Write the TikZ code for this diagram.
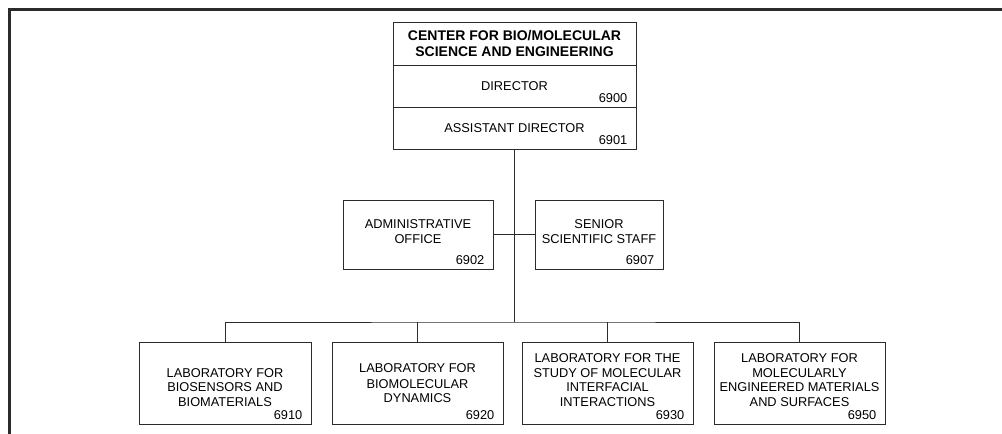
\documentclass[tikz,border=0pt]{standalone}
\usepackage{fontspec}
\setmainfont{Liberation Sans}
\usetikzlibrary{positioning}
\definecolor{ink}{HTML}{2B2B2B}

\begin{document}
\begin{tikzpicture}[
  x=1pt, y=-1pt,
  font=\fontsize{12.8}{14.6}\selectfont,
  unit/.style={draw=ink, line width=0.9pt, outer sep=0pt, align=center, inner sep=2pt},
  head/.style={unit, minimum width=243pt},
  staff/.style={unit, text height=41.2pt, text depth=23.8pt},
  lab/.style={unit, minimum width=171pt, text height=62.3pt, text depth=15.7pt},
  code/.style={anchor=base east, inner sep=0pt, xshift=-8.5pt, yshift=4.5pt},
  link/.style={draw=ink, line width=0.9pt}
]
  \useasboundingbox (0,0) rectangle (1002,434);
  % frame
  \draw[ink, line width=2.6pt] (9.5,434) -- (9.5,9.5) -- (1002,9.5);

  % center block
  \node[head, minimum height=43pt, font=\fontsize{14}{16}\selectfont\bfseries] (cbmse) at (514.5,43.5)
    {CENTER FOR BIO/MOLECULAR\\SCIENCE AND ENGINEERING};
  \node[head, minimum height=42pt, below=0pt of cbmse] (dir) {DIRECTOR};
  \node[head, minimum height=42pt, below=0pt of dir] (asst) {ASSISTANT DIRECTOR};
  \node[code] (c6900) at (dir.south east) {6900};
  \node[code] (c6901) at (asst.south east) {6901};

  % staff
  \node[staff, minimum width=150pt, anchor=north] (admin) at (418,200) {ADMINISTRATIVE\\OFFICE};
  \node[staff, minimum width=128pt, anchor=north] (senior) at (599,200) {SENIOR\\SCIENTIFIC STAFF};
  \node[code] (c6902) at (admin.south east) {6902};
  \node[code] (c6907) at (senior.south east) {6907};

  % laboratories
  \node[lab, minimum width=172pt, anchor=north] (biosens) at (225,342) {LABORATORY FOR\\BIOSENSORS AND\\BIOMATERIALS};
  \node[lab, anchor=north, text height=58.9pt, text depth=19.1pt] (dynam) at (417.5,342)
    {LABORATORY FOR\\[1.5pt]BIOMOLECULAR\\DYNAMICS};
  \node[lab, anchor=north] (interf) at (607.5,342) {LABORATORY FOR THE\\STUDY OF MOLECULAR\\INTERFACIAL\\INTERACTIONS};
  \node[lab, anchor=north] (engmat) at (799.5,342) {LABORATORY FOR\\MOLECULARLY\\ENGINEERED MATERIALS\\AND SURFACES};
  \node[code] (c6910) at (biosens.south east) {6910};
  \node[code] (c6920) at (dynam.south east) {6920};
  \node[code] (c6930) at (interf.south east) {6930};
  \node[code] (c6950) at (engmat.south east) {6950};

  % connectors
  \coordinate (bus) at (514.5,322);
  \draw[link] (asst) -- (bus);
  \draw[link] (admin) -- (senior);
  \draw[link] (biosens.north) |- (bus) -| (engmat.north);
  \foreach \k in {dynam,interf}
    \draw[link] (\k.north) -- (\k.north |- bus);
\end{tikzpicture}
\end{document}
